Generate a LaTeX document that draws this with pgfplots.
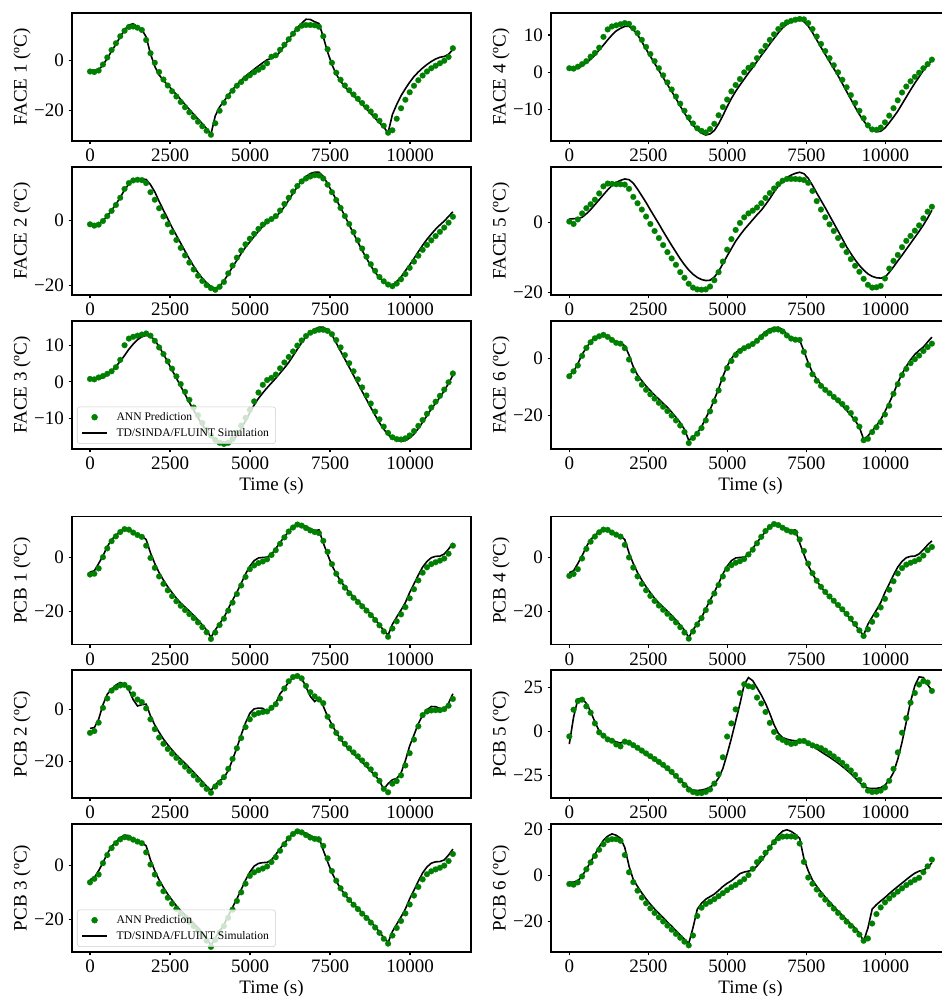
\documentclass[border=0pt]{standalone}
\usepackage{fontspec}
\setmainfont{Liberation Serif}
\usepackage{pgfplots}
\usepackage{pgfplotstable}
\pgfplotsset{compat=1.18}
\definecolor{ann}{rgb}{0,0.5,0}

\pgfplotstableread[row sep=\\]{t a s\\
0 -4.3 -3.8\\ 135 -4.5 -3.8\\ 270 -3.9 -3.6\\ 405 -1.5 -1.8\\ 540 1.3 1.0\\ 675 4.3 3.8\\ 810 7.0 6.6\\ 945 9.8 9.6\\ 1080 12.0 12.3\\ 1215 13.5 14.3\\ 1350 13.7 14.8\\ 1485 13.2 13.6\\ 1620 12.3 12.5\\ 1755 8.3 9.5\\ 1890 3.0 2.8\\ 2025 -0.8 -2.3\\ 2160 -4.5 -5.7\\ 2295 -7.5 -7.8\\ 2430 -9.9 -9.8\\ 2565 -12.2 -11.6\\ 2700 -14.3 -13.5\\ 2835 -16.5 -15.5\\ 2970 -18.6 -17.5\\ 3105 -20.6 -19.5\\ 3240 -22.5 -21.4\\ 3375 -24.4 -23.3\\ 3510 -26.2 -25.2\\ 3645 -28.0 -27.2\\ 3780 -29.6 -29.4\\ 3915 -25.0 -22.0\\ 4050 -20.0 -18.5\\ 4185 -16.8 -16.2\\ 4320 -14.2 -13.8\\ 4455 -12.0 -11.6\\ 4590 -10.0 -9.6\\ 4725 -8.5 -7.8\\ 4860 -7.0 -6.2\\ 4995 -5.8 -4.8\\ 5130 -4.6 -3.4\\ 5265 -3.6 -2.1\\ 5400 -2.6 -0.8\\ 5535 -1.0 0.4\\ 5670 1.6 1.0\\ 5805 2.2 1.8\\ 5940 4.4 3.6\\ 6075 6.4 6.0\\ 6210 8.6 8.5\\ 6345 10.8 10.9\\ 6480 12.7 13.2\\ 6615 14.0 15.0\\ 6750 14.3 16.6\\ 6885 14.3 16.5\\ 7020 14.2 15.6\\ 7155 13.6 14.9\\ 7290 9.8 9.5\\ 7425 4.6 3.5\\ 7560 -0.8 -1.5\\ 7695 -4.8 -5.4\\ 7830 -7.6 -8.2\\ 7965 -9.9 -10.4\\ 8100 -11.8 -12.2\\ 8235 -13.5 -13.9\\ 8370 -15.2 -15.6\\ 8505 -16.9 -17.4\\ 8640 -18.6 -19.3\\ 8775 -20.3 -21.1\\ 8910 -22.1 -23.0\\ 9045 -24.0 -24.8\\ 9180 -26.0 -26.6\\ 9315 -28.8 -28.8\\ 9450 -27.8 -21.5\\ 9585 -23.2 -17.5\\ 9720 -19.0 -14.0\\ 9855 -15.6 -11.2\\ 9990 -12.6 -8.6\\ 10125 -10.0 -6.3\\ 10260 -7.8 -4.5\\ 10395 -5.9 -2.9\\ 10530 -4.3 -1.5\\ 10665 -3.0 -0.3\\ 10800 -2.0 0.7\\ 10935 -1.0 1.4\\ 11070 0.0 1.7\\ 11205 1.5 2.6\\ 11340 5.0 4.5\\
}\faceA

\pgfplotstableread[row sep=\\]{t a s\\
0 -1.3 -1.2\\ 135 -1.7 -1.5\\ 270 -1.4 -1.2\\ 405 -0.3 -0.2\\ 540 1.2 1.2\\ 675 2.8 3.0\\ 810 4.6 4.8\\ 945 6.8 6.9\\ 1080 9.5 9.2\\ 1215 11.3 11.0\\ 1350 12.1 12.0\\ 1485 12.3 12.4\\ 1620 12.2 12.5\\ 1755 11.3 12.4\\ 1890 8.5 10.8\\ 2025 6.2 8.6\\ 2160 3.6 5.7\\ 2295 1.1 3.0\\ 2430 -1.3 0.4\\ 2565 -3.7 -2.3\\ 2700 -6.1 -4.7\\ 2835 -8.5 -7.1\\ 2970 -10.8 -9.5\\ 3105 -13.0 -11.9\\ 3240 -15.1 -14.1\\ 3375 -17.0 -16.1\\ 3510 -18.6 -17.8\\ 3645 -19.9 -19.2\\ 3780 -20.8 -20.3\\ 3915 -21.3 -20.9\\ 4050 -20.4 -20.2\\ 4185 -18.9 -18.6\\ 4320 -16.3 -16.5\\ 4455 -13.9 -14.3\\ 4590 -11.5 -12.3\\ 4725 -9.3 -10.2\\ 4860 -7.4 -8.3\\ 4995 -5.7 -6.7\\ 5130 -4.2 -5.0\\ 5265 -2.7 -3.4\\ 5400 -1.4 -1.9\\ 5535 -0.4 -0.8\\ 5670 0.3 0.2\\ 5805 1.2 1.1\\ 5940 2.9 2.3\\ 6075 4.9 4.1\\ 6210 6.8 6.1\\ 6345 8.7 8.2\\ 6480 10.4 10.2\\ 6615 11.8 12.0\\ 6750 12.7 13.3\\ 6885 13.3 14.2\\ 7020 13.7 14.6\\ 7155 13.6 14.6\\ 7290 12.7 13.3\\ 7425 10.8 11.1\\ 7560 8.5 8.7\\ 7695 6.1 6.2\\ 7830 3.7 3.8\\ 7965 1.2 1.2\\ 8100 -1.2 -1.5\\ 8235 -3.7 -4.1\\ 8370 -6.2 -6.7\\ 8505 -8.7 -9.3\\ 8640 -11.2 -11.7\\ 8775 -13.5 -14.0\\ 8910 -15.5 -16.0\\ 9045 -17.4 -17.6\\ 9180 -18.7 -18.9\\ 9315 -19.7 -19.7\\ 9450 -20.2 -19.9\\ 9585 -19.4 -18.8\\ 9720 -18.1 -17.4\\ 9855 -16.5 -15.5\\ 9990 -14.6 -13.7\\ 10125 -12.7 -11.7\\ 10260 -10.9 -9.7\\ 10395 -9.1 -7.7\\ 10530 -7.6 -5.9\\ 10665 -6.2 -4.3\\ 10800 -4.9 -2.8\\ 10935 -3.6 -1.5\\ 11070 -2.3 -0.3\\ 11205 -0.8 1.1\\ 11340 1.0 2.5\\
}\faceB

\pgfplotstableread[row sep=\\]{t a s\\
0 0.8 0.7\\ 135 0.7 0.6\\ 270 1.2 0.8\\ 405 1.6 1.2\\ 540 2.2 1.9\\ 675 2.9 2.9\\ 810 4.0 4.2\\ 945 6.0 5.6\\ 1080 10.0 7.2\\ 1215 11.8 8.9\\ 1350 12.3 10.3\\ 1485 12.6 11.5\\ 1620 12.9 12.3\\ 1755 13.2 12.7\\ 1890 12.6 12.4\\ 2025 11.2 11.4\\ 2160 9.4 9.6\\ 2295 7.6 7.6\\ 2430 5.6 5.4\\ 2565 3.6 3.2\\ 2700 1.5 1.0\\ 2835 -0.6 -1.2\\ 2970 -2.7 -3.4\\ 3105 -4.9 -5.6\\ 3240 -7.0 -7.7\\ 3375 -9.1 -9.8\\ 3510 -11.2 -11.7\\ 3645 -13.1 -13.4\\ 3780 -14.6 -14.8\\ 3915 -15.8 -15.9\\ 4050 -16.6 -16.7\\ 4185 -16.9 -17.2\\ 4320 -16.6 -17.0\\ 4455 -15.6 -16.1\\ 4590 -13.9 -14.6\\ 4725 -11.9 -12.7\\ 4860 -9.8 -10.6\\ 4995 -7.6 -8.4\\ 5130 -5.3 -6.3\\ 5265 -2.9 -4.5\\ 5400 -0.8 -3.0\\ 5535 0.5 -1.6\\ 5670 1.1 -0.3\\ 5805 2.0 1.0\\ 5940 3.7 2.4\\ 6075 5.3 3.8\\ 6210 6.8 5.3\\ 6345 8.3 7.1\\ 6480 9.9 8.9\\ 6615 11.3 10.7\\ 6750 12.5 12.3\\ 6885 13.4 13.5\\ 7020 13.9 14.4\\ 7155 14.2 14.9\\ 7290 14.2 14.9\\ 7425 13.9 14.2\\ 7560 13.0 12.8\\ 7695 11.4 10.6\\ 7830 9.4 8.4\\ 7965 7.3 6.2\\ 8100 5.1 4.0\\ 8235 2.9 1.8\\ 8370 0.7 -0.4\\ 8505 -1.5 -2.6\\ 8640 -3.7 -4.8\\ 8775 -5.9 -7.0\\ 8910 -8.1 -9.1\\ 9045 -10.2 -11.1\\ 9180 -12.2 -12.9\\ 9315 -13.9 -14.4\\ 9450 -15.1 -15.4\\ 9585 -15.6 -15.9\\ 9720 -15.7 -16.2\\ 9855 -15.4 -16.0\\ 9990 -14.6 -15.3\\ 10125 -13.4 -14.2\\ 10260 -12.0 -12.7\\ 10395 -10.4 -11.0\\ 10530 -8.7 -9.2\\ 10665 -7.0 -7.4\\ 10800 -5.4 -5.8\\ 10935 -3.8 -4.2\\ 11070 -2.1 -2.4\\ 11205 -0.1 -0.4\\ 11340 2.3 1.8\\
}\faceC

\pgfplotstableread[row sep=\\]{t a s\\
0 1.1 1.0\\ 135 1.0 0.9\\ 270 1.5 1.1\\ 405 2.2 1.7\\ 540 3.0 2.6\\ 675 4.2 3.5\\ 810 5.2 4.6\\ 945 6.6 6.0\\ 1080 9.5 7.3\\ 1215 11.5 8.7\\ 1350 12.3 10.0\\ 1485 12.6 11.1\\ 1620 12.9 11.8\\ 1755 13.2 12.3\\ 1890 13.0 12.3\\ 2025 11.8 11.5\\ 2160 10.5 10.1\\ 2295 8.7 8.2\\ 2430 6.8 6.2\\ 2565 4.9 4.3\\ 2700 3.0 2.4\\ 2835 1.1 0.5\\ 2970 -0.8 -1.4\\ 3105 -2.7 -3.3\\ 3240 -4.6 -5.1\\ 3375 -6.5 -7.0\\ 3510 -8.4 -9.0\\ 3645 -10.3 -10.9\\ 3780 -12.1 -12.7\\ 3915 -13.7 -14.2\\ 4050 -15.0 -15.3\\ 4185 -15.7 -16.3\\ 4320 -16.1 -16.8\\ 4455 -15.2 -16.5\\ 4590 -13.8 -15.6\\ 4725 -11.5 -13.8\\ 4860 -9.3 -11.6\\ 4995 -7.3 -9.2\\ 5130 -5.1 -7.0\\ 5265 -3.4 -5.1\\ 5400 -1.8 -3.4\\ 5535 0.0 -1.8\\ 5670 1.2 -0.2\\ 5805 2.0 1.3\\ 5940 3.8 2.9\\ 6075 5.6 4.5\\ 6210 7.1 6.0\\ 6345 8.7 7.6\\ 6480 10.2 9.1\\ 6615 11.6 10.6\\ 6750 12.7 11.9\\ 6885 13.4 12.9\\ 7020 13.8 13.6\\ 7155 14.1 14.0\\ 7290 14.3 14.2\\ 7425 14.2 13.6\\ 7560 13.2 12.4\\ 7695 11.6 10.7\\ 7830 9.6 8.7\\ 7965 7.6 6.7\\ 8100 5.7 4.8\\ 8235 3.8 2.9\\ 8370 1.9 1.0\\ 8505 0.0 -0.9\\ 8640 -2.0 -3.0\\ 8775 -4.0 -5.1\\ 8910 -6.1 -7.2\\ 9045 -8.2 -9.3\\ 9180 -10.3 -11.3\\ 9315 -12.3 -13.0\\ 9450 -14.2 -14.5\\ 9585 -15.3 -15.5\\ 9720 -15.4 -15.9\\ 9855 -14.8 -15.8\\ 9990 -13.4 -14.9\\ 10125 -11.6 -13.5\\ 10260 -9.6 -12.0\\ 10395 -7.5 -10.4\\ 10530 -5.4 -8.5\\ 10665 -3.8 -6.6\\ 10800 -2.4 -4.7\\ 10935 -1.2 -2.9\\ 11070 -0.1 -1.2\\ 11205 1.1 0.5\\ 11340 2.2 2.0\\ 11475 3.4 3.3\\
}\faceD

\pgfplotstableread[row sep=\\]{t a s\\
0 0.2 0.9\\ 135 -0.5 1.0\\ 270 0.8 1.1\\ 405 2.5 1.4\\ 540 4.0 2.4\\ 675 5.1 3.6\\ 810 6.4 5.0\\ 945 8.2 6.4\\ 1080 10.2 7.8\\ 1215 11.0 9.2\\ 1350 10.9 10.4\\ 1485 10.8 11.3\\ 1620 10.8 11.9\\ 1755 10.7 12.3\\ 1890 9.5 12.1\\ 2025 7.2 11.1\\ 2160 5.4 9.4\\ 2295 3.6 7.5\\ 2430 1.6 5.6\\ 2565 -0.5 3.5\\ 2700 -2.5 1.5\\ 2835 -4.5 -0.5\\ 2970 -6.5 -2.6\\ 3105 -8.5 -4.6\\ 3240 -10.3 -6.6\\ 3375 -12.1 -8.5\\ 3510 -14.2 -10.4\\ 3645 -15.8 -12.1\\ 3780 -17.5 -13.6\\ 3915 -18.6 -14.8\\ 4050 -19.1 -15.7\\ 4185 -19.2 -16.3\\ 4320 -19.1 -16.6\\ 4455 -18.3 -16.5\\ 4590 -16.5 -15.6\\ 4725 -14.2 -14.0\\ 4860 -11.2 -11.8\\ 4995 -7.8 -9.6\\ 5130 -4.8 -7.5\\ 5265 -2.2 -5.4\\ 5400 -0.2 -3.7\\ 5535 1.4 -2.1\\ 5670 2.5 -0.7\\ 5805 3.3 0.7\\ 5940 4.2 2.1\\ 6075 5.4 3.4\\ 6210 6.9 5.0\\ 6345 8.3 6.7\\ 6480 9.6 8.6\\ 6615 10.8 10.3\\ 6750 11.8 11.6\\ 6885 12.3 12.7\\ 7020 12.3 13.4\\ 7155 12.3 13.9\\ 7290 12.2 14.2\\ 7425 12.0 13.8\\ 7560 11.2 12.5\\ 7695 8.9 10.5\\ 7830 6.0 8.3\\ 7965 3.6 6.2\\ 8100 1.4 4.1\\ 8235 -0.6 1.9\\ 8370 -2.5 -0.3\\ 8505 -4.5 -2.5\\ 8640 -6.6 -4.7\\ 8775 -8.5 -7.0\\ 8910 -10.5 -8.9\\ 9045 -12.4 -10.7\\ 9180 -14.1 -12.3\\ 9315 -16.1 -13.6\\ 9450 -17.8 -14.7\\ 9585 -18.6 -15.4\\ 9720 -18.5 -15.8\\ 9855 -18.1 -15.9\\ 9990 -16.0 -15.6\\ 10125 -13.2 -14.3\\ 10260 -11.0 -12.7\\ 10395 -9.3 -11.0\\ 10530 -7.1 -9.4\\ 10665 -5.3 -7.7\\ 10800 -3.9 -6.0\\ 10935 -2.4 -4.3\\ 11070 -0.9 -2.6\\ 11205 1.1 -0.8\\ 11340 3.0 1.2\\ 11475 4.4 3.4\\
}\faceE

\pgfplotstableread[row sep=\\]{t a s\\
0 -6.2 -5.9\\ 135 -4.5 -4.6\\ 270 -2.4 -1.8\\ 405 1.0 1.5\\ 540 3.8 3.9\\ 675 5.8 6.0\\ 810 7.2 7.5\\ 945 7.9 8.1\\ 1080 8.4 8.6\\ 1215 7.7 7.9\\ 1350 6.6 6.9\\ 1485 5.6 6.0\\ 1620 5.3 5.5\\ 1755 3.7 4.6\\ 1890 -0.3 1.3\\ 2025 -4.2 -2.9\\ 2160 -7.0 -5.8\\ 2295 -9.2 -7.8\\ 2430 -11.0 -9.7\\ 2565 -12.6 -11.3\\ 2700 -14.1 -12.9\\ 2835 -15.6 -14.3\\ 2970 -17.0 -15.8\\ 3105 -18.5 -17.2\\ 3240 -20.1 -18.9\\ 3375 -21.8 -20.7\\ 3510 -23.6 -22.6\\ 3645 -25.9 -25.0\\ 3780 -29.8 -28.8\\ 3915 -28.0 -27.8\\ 4050 -26.5 -26.2\\ 4185 -24.5 -24.0\\ 4320 -21.8 -21.0\\ 4455 -18.6 -18.0\\ 4590 -15.0 -14.4\\ 4725 -11.2 -10.6\\ 4860 -7.2 -6.3\\ 4995 -3.3 -2.6\\ 5130 -0.8 0.0\\ 5265 1.3 2.1\\ 5400 2.7 3.3\\ 5535 3.7 4.0\\ 5670 4.4 4.6\\ 5805 5.2 5.2\\ 5940 6.3 6.6\\ 6075 7.6 8.1\\ 6210 8.8 9.5\\ 6345 9.8 10.4\\ 6480 10.3 11.0\\ 6615 10.3 11.1\\ 6750 9.6 10.2\\ 6885 8.2 8.6\\ 7020 7.1 7.4\\ 7155 6.7 6.9\\ 7290 6.6 6.5\\ 7425 2.4 2.7\\ 7560 -2.2 -1.4\\ 7695 -5.5 -4.9\\ 7830 -7.8 -7.2\\ 7965 -9.6 -9.1\\ 8100 -11.0 -10.8\\ 8235 -12.2 -12.3\\ 8370 -13.5 -13.7\\ 8505 -14.7 -15.2\\ 8640 -16.0 -16.6\\ 8775 -17.4 -18.2\\ 8910 -19.2 -20.0\\ 9045 -21.4 -21.8\\ 9180 -24.0 -24.2\\ 9315 -28.8 -28.5\\ 9450 -28.3 -27.3\\ 9585 -25.9 -25.5\\ 9720 -24.2 -23.6\\ 9855 -22.4 -21.6\\ 9990 -19.7 -18.6\\ 10125 -16.6 -15.6\\ 10260 -12.4 -12.3\\ 10395 -9.0 -8.5\\ 10530 -5.8 -5.4\\ 10665 -3.6 -2.7\\ 10800 -1.6 -0.4\\ 10935 -0.2 1.5\\ 11070 1.1 2.9\\ 11205 2.7 4.1\\ 11340 4.1 5.9\\ 11475 5.3 7.6\\
}\faceF

\pgfplotstableread[row sep=\\]{t a s\\
0 -6.3 -5.4\\ 135 -6.0 -4.9\\ 270 -4.0 -2.2\\ 405 0.2 0.7\\ 540 3.5 4.1\\ 675 6.2 6.8\\ 810 8.0 8.3\\ 945 9.6 9.8\\ 1080 10.7 10.9\\ 1215 10.5 10.7\\ 1350 9.4 9.5\\ 1485 8.5 8.7\\ 1620 7.8 8.1\\ 1755 4.5 6.8\\ 1890 -0.1 1.8\\ 2025 -3.8 -2.2\\ 2160 -7.0 -5.6\\ 2295 -9.8 -8.4\\ 2430 -12.2 -10.9\\ 2565 -14.4 -13.1\\ 2700 -16.3 -15.2\\ 2835 -18.0 -17.0\\ 2970 -19.6 -18.5\\ 3105 -21.1 -20.0\\ 3240 -22.6 -21.6\\ 3375 -24.2 -23.3\\ 3510 -26.0 -25.2\\ 3645 -27.9 -27.1\\ 3780 -30.4 -29.9\\ 3915 -28.0 -27.0\\ 4050 -25.2 -24.7\\ 4185 -22.8 -22.4\\ 4320 -19.8 -19.1\\ 4455 -16.8 -15.9\\ 4590 -13.6 -12.9\\ 4725 -10.4 -9.6\\ 4860 -7.2 -6.1\\ 4995 -4.3 -3.2\\ 5130 -2.9 -1.1\\ 5265 -2.0 -0.1\\ 5400 -1.4 0.1\\ 5535 -0.6 0.2\\ 5670 1.0 1.2\\ 5805 2.8 3.4\\ 5940 5.2 5.7\\ 6075 7.6 7.8\\ 6210 9.8 9.8\\ 6345 11.3 11.5\\ 6480 12.4 12.8\\ 6615 12.0 12.3\\ 6750 11.1 11.7\\ 6885 10.2 10.8\\ 7020 9.6 10.1\\ 7155 9.2 10.4\\ 7290 6.3 5.5\\ 7425 2.2 1.2\\ 7560 -2.4 -2.9\\ 7695 -6.0 -6.0\\ 7830 -8.9 -8.7\\ 7965 -11.2 -10.9\\ 8100 -13.3 -13.0\\ 8235 -15.0 -14.6\\ 8370 -16.6 -16.3\\ 8505 -18.2 -17.9\\ 8640 -19.8 -19.5\\ 8775 -21.5 -21.2\\ 8910 -23.3 -23.2\\ 9045 -25.3 -25.1\\ 9180 -27.6 -27.3\\ 9315 -29.6 -29.0\\ 9450 -26.5 -24.9\\ 9585 -23.8 -22.2\\ 9720 -21.2 -19.6\\ 9855 -18.5 -16.8\\ 9990 -15.2 -13.0\\ 10125 -11.8 -9.8\\ 10260 -8.5 -6.5\\ 10395 -5.6 -3.5\\ 10530 -3.6 -1.4\\ 10665 -2.4 0.0\\ 10800 -1.7 0.5\\ 10935 -1.1 0.6\\ 11070 -0.3 1.4\\ 11205 1.5 3.2\\ 11340 4.5 5.5\\
}\pcbA

\pgfplotstableread[row sep=\\]{t a s\\
0 -9.0 -7.3\\ 135 -8.3 -7.0\\ 270 -5.1 -3.8\\ 405 0.6 1.8\\ 540 4.2 5.8\\ 675 7.2 7.7\\ 810 8.4 9.3\\ 945 9.2 10.3\\ 1080 9.4 9.6\\ 1215 8.2 7.4\\ 1350 5.8 3.7\\ 1485 3.8 1.3\\ 1620 2.8 1.8\\ 1755 0.4 2.0\\ 1890 -3.8 -2.5\\ 2025 -7.6 -6.0\\ 2160 -10.8 -8.8\\ 2295 -13.2 -11.4\\ 2430 -15.2 -13.6\\ 2565 -17.0 -15.6\\ 2700 -18.6 -17.5\\ 2835 -20.3 -19.1\\ 2970 -22.0 -20.7\\ 3105 -23.6 -22.4\\ 3240 -25.3 -24.1\\ 3375 -27.0 -25.9\\ 3510 -28.8 -27.7\\ 3645 -30.5 -29.5\\ 3780 -32.0 -31.1\\ 3915 -29.6 -29.0\\ 4050 -28.1 -27.4\\ 4185 -26.0 -26.2\\ 4320 -22.8 -23.5\\ 4455 -19.0 -19.3\\ 4590 -14.9 -14.7\\ 4725 -11.0 -9.8\\ 4860 -6.8 -5.2\\ 4995 -3.8 -1.5\\ 5130 -2.0 0.2\\ 5265 -1.4 0.5\\ 5400 -1.0 0.4\\ 5535 -0.8 -0.9\\ 5670 0.6 0.2\\ 5805 2.0 2.4\\ 5940 4.2 6.0\\ 6075 8.0 8.0\\ 6210 10.8 10.6\\ 6345 12.4 12.2\\ 6480 12.8 12.7\\ 6615 11.9 11.9\\ 6750 9.0 8.6\\ 6885 6.6 5.0\\ 7020 5.0 3.0\\ 7155 3.8 4.5\\ 7290 2.4 1.2\\ 7425 -2.8 -2.7\\ 7560 -6.3 -5.8\\ 7695 -9.0 -8.9\\ 7830 -11.2 -11.4\\ 7965 -13.2 -13.6\\ 8100 -14.9 -15.4\\ 8235 -16.5 -17.0\\ 8370 -18.0 -18.6\\ 8505 -19.6 -20.3\\ 8640 -21.2 -21.9\\ 8775 -23.0 -23.6\\ 8910 -25.0 -25.3\\ 9045 -27.4 -27.5\\ 9180 -30.5 -30.6\\ 9315 -31.8 -28.5\\ 9450 -28.5 -27.0\\ 9585 -27.5 -26.5\\ 9720 -25.3 -24.4\\ 9855 -21.5 -19.7\\ 9990 -16.8 -14.0\\ 10125 -11.6 -9.8\\ 10260 -6.5 -5.5\\ 10395 -2.2 -2.2\\ 10530 -0.8 -0.2\\ 10665 -0.4 1.1\\ 10800 -0.3 1.0\\ 10935 -0.3 0.4\\ 11070 0.1 -0.1\\ 11205 1.4 2.4\\ 11340 4.0 6.0\\
}\pcbB

\pgfplotstableread[row sep=\\]{t a s\\
0 -6.3 -5.3\\ 135 -5.0 -4.6\\ 270 -3.4 -2.0\\ 405 0.8 1.0\\ 540 3.8 4.3\\ 675 6.4 7.0\\ 810 8.2 8.6\\ 945 9.6 10.2\\ 1080 10.4 11.2\\ 1215 10.2 11.0\\ 1350 9.5 9.8\\ 1485 8.8 9.0\\ 1620 8.2 8.5\\ 1755 4.8 7.2\\ 1890 0.3 2.0\\ 2025 -3.4 -2.0\\ 2160 -6.8 -5.4\\ 2295 -9.6 -8.2\\ 2430 -12.0 -10.7\\ 2565 -14.2 -12.9\\ 2700 -16.1 -15.0\\ 2835 -17.8 -16.8\\ 2970 -19.4 -18.3\\ 3105 -20.9 -19.8\\ 3240 -22.5 -21.4\\ 3375 -24.1 -23.1\\ 3510 -25.9 -25.0\\ 3645 -27.9 -26.9\\ 3780 -30.2 -29.7\\ 3915 -27.6 -26.8\\ 4050 -24.9 -24.4\\ 4185 -22.5 -22.0\\ 4320 -19.4 -18.7\\ 4455 -16.4 -15.5\\ 4590 -13.2 -12.4\\ 4725 -10.0 -9.0\\ 4860 -6.8 -5.5\\ 4995 -3.9 -2.5\\ 5130 -2.6 -0.3\\ 5265 -1.8 0.7\\ 5400 -1.2 1.0\\ 5535 -0.4 1.1\\ 5670 1.2 2.0\\ 5805 3.0 4.0\\ 5940 5.4 6.2\\ 6075 7.8 8.2\\ 6210 10.0 10.1\\ 6345 11.6 11.8\\ 6480 12.6 13.0\\ 6615 12.2 12.5\\ 6750 11.2 11.9\\ 6885 10.3 11.0\\ 7020 9.8 10.2\\ 7155 9.5 10.4\\ 7290 7.2 5.6\\ 7425 2.6 1.3\\ 7560 -2.1 -2.8\\ 7695 -5.7 -5.9\\ 7830 -8.5 -8.6\\ 7965 -10.8 -10.8\\ 8100 -12.8 -12.8\\ 8235 -14.6 -14.4\\ 8370 -16.2 -16.0\\ 8505 -17.9 -17.6\\ 8640 -19.5 -19.2\\ 8775 -21.2 -20.9\\ 8910 -23.0 -22.8\\ 9045 -25.0 -24.7\\ 9180 -27.2 -26.8\\ 9315 -29.0 -28.6\\ 9450 -26.0 -24.5\\ 9585 -23.2 -21.8\\ 9720 -20.6 -19.1\\ 9855 -17.8 -16.2\\ 9990 -14.5 -12.4\\ 10125 -11.2 -9.2\\ 10260 -8.0 -5.9\\ 10395 -5.2 -2.8\\ 10530 -3.3 -0.6\\ 10665 -2.2 0.8\\ 10800 -1.5 1.3\\ 10935 -0.9 1.4\\ 11070 -0.1 2.0\\ 11205 1.6 3.8\\ 11340 4.2 6.0\\
}\pcbC

\pgfplotstableread[row sep=\\]{t a s\\
0 -6.8 -5.6\\ 135 -6.1 -4.9\\ 270 -4.3 -2.2\\ 405 -0.3 0.7\\ 540 3.3 4.1\\ 675 6.0 6.8\\ 810 7.9 8.3\\ 945 9.5 9.8\\ 1080 10.5 10.9\\ 1215 10.4 10.7\\ 1350 9.4 9.5\\ 1485 8.6 8.7\\ 1620 7.9 8.1\\ 1755 4.8 6.8\\ 1890 0.1 1.8\\ 2025 -3.7 -2.2\\ 2160 -7.0 -5.6\\ 2295 -9.8 -8.4\\ 2430 -12.2 -10.9\\ 2565 -14.3 -13.1\\ 2700 -16.2 -15.2\\ 2835 -17.9 -17.0\\ 2970 -19.5 -18.5\\ 3105 -21.0 -20.0\\ 3240 -22.6 -21.6\\ 3375 -24.2 -23.3\\ 3510 -26.0 -25.2\\ 3645 -28.0 -27.1\\ 3780 -30.3 -29.9\\ 3915 -27.6 -27.0\\ 4050 -25.0 -24.7\\ 4185 -22.6 -22.4\\ 4320 -19.6 -19.1\\ 4455 -16.5 -15.9\\ 4590 -13.4 -12.9\\ 4725 -10.2 -9.6\\ 4860 -7.0 -6.1\\ 4995 -4.2 -3.2\\ 5130 -2.8 -1.1\\ 5265 -1.9 -0.1\\ 5400 -1.3 0.1\\ 5535 -0.5 0.2\\ 5670 1.2 1.2\\ 5805 3.0 3.4\\ 5940 5.4 5.7\\ 6075 7.8 7.8\\ 6210 10.0 9.8\\ 6345 11.5 11.5\\ 6480 12.6 13.1\\ 6615 12.2 12.4\\ 6750 11.2 11.7\\ 6885 10.3 10.8\\ 7020 9.7 10.1\\ 7155 9.4 10.4\\ 7290 6.8 5.5\\ 7425 2.5 1.2\\ 7560 -2.2 -2.9\\ 7695 -5.8 -6.0\\ 7830 -8.6 -8.7\\ 7965 -10.9 -10.9\\ 8100 -12.8 -13.0\\ 8235 -14.5 -14.6\\ 8370 -16.1 -16.3\\ 8505 -17.7 -17.9\\ 8640 -19.3 -19.5\\ 8775 -21.0 -21.2\\ 8910 -22.8 -23.2\\ 9045 -24.8 -25.1\\ 9180 -27.2 -27.3\\ 9315 -29.3 -29.0\\ 9450 -26.8 -24.9\\ 9585 -24.0 -22.2\\ 9720 -21.4 -19.6\\ 9855 -18.6 -16.8\\ 9990 -15.4 -13.0\\ 10125 -12.0 -9.8\\ 10260 -8.8 -6.5\\ 10395 -5.9 -3.5\\ 10530 -3.9 -1.4\\ 10665 -2.6 0.0\\ 10800 -1.9 0.5\\ 10935 -1.3 0.6\\ 11070 -0.6 1.4\\ 11205 0.8 3.0\\ 11340 2.8 4.8\\ 11475 4.0 6.3\\
}\pcbD

\pgfplotstableread[row sep=\\]{t a s\\
0 -2.9 -7.3\\ 135 12.3 8.0\\ 270 17.2 18.3\\ 405 18.0 18.8\\ 540 14.2 15.8\\ 675 10.6 11.3\\ 810 4.5 5.3\\ 945 -0.6 0.2\\ 1080 -2.5 -2.6\\ 1215 -4.6 -4.1\\ 1350 -5.4 -5.1\\ 1485 -7.5 -6.0\\ 1620 -8.6 -6.7\\ 1755 -5.9 -5.7\\ 1890 -6.5 -6.6\\ 2025 -7.9 -8.2\\ 2160 -9.4 -9.9\\ 2295 -11.0 -11.5\\ 2430 -12.6 -13.2\\ 2565 -14.2 -14.8\\ 2700 -15.8 -16.4\\ 2835 -17.4 -18.0\\ 2970 -19.1 -19.7\\ 3105 -21.0 -21.6\\ 3240 -23.1 -23.7\\ 3375 -25.4 -25.8\\ 3510 -28.0 -27.8\\ 3645 -30.6 -29.9\\ 3780 -33.2 -32.4\\ 3915 -34.6 -33.5\\ 4050 -35.2 -33.7\\ 4185 -35.2 -33.5\\ 4320 -34.5 -32.9\\ 4455 -33.1 -31.8\\ 4590 -29.8 -30.0\\ 4725 -24.5 -26.6\\ 4860 -14.8 -21.2\\ 4995 -3.0 -13.0\\ 5130 4.5 -4.0\\ 5265 12.5 5.8\\ 5400 21.8 15.6\\ 5535 26.8 26.6\\ 5670 25.7 30.6\\ 5805 25.2 28.8\\ 5940 19.2 24.8\\ 6075 15.8 20.7\\ 6210 11.0 15.9\\ 6345 4.8 10.1\\ 6480 -0.4 3.7\\ 6615 -3.6 -1.2\\ 6750 -4.9 -3.6\\ 6885 -6.3 -4.5\\ 7020 -7.2 -5.1\\ 7155 -6.8 -5.4\\ 7290 -5.6 -5.4\\ 7425 -5.5 -5.0\\ 7560 -6.8 -6.4\\ 7695 -8.0 -8.3\\ 7830 -8.8 -10.0\\ 7965 -9.6 -11.6\\ 8100 -11.0 -13.2\\ 8235 -12.6 -14.7\\ 8370 -14.3 -16.4\\ 8505 -16.1 -18.1\\ 8640 -18.0 -20.0\\ 8775 -20.1 -22.0\\ 8910 -22.3 -24.1\\ 9045 -24.8 -26.5\\ 9180 -27.7 -29.0\\ 9315 -30.8 -31.2\\ 9450 -33.8 -32.4\\ 9585 -34.6 -32.6\\ 9720 -34.4 -32.5\\ 9855 -33.8 -32.1\\ 9990 -32.0 -30.7\\ 10125 -28.2 -27.8\\ 10260 -21.4 -23.5\\ 10395 -12.0 -15.9\\ 10530 -0.8 -6.2\\ 10665 7.5 5.4\\ 10800 16.3 16.8\\ 10935 21.8 26.0\\ 11070 26.6 31.0\\ 11205 28.6 30.6\\ 11340 27.8 26.5\\ 11475 23.0 23.3\\
}\pcbE

\pgfplotstableread[row sep=\\]{t a s\\
0 -3.6 -2.8\\ 135 -3.9 -2.8\\ 270 -2.9 -2.2\\ 405 -0.3 -0.2\\ 540 2.8 2.9\\ 675 5.8 6.0\\ 810 8.6 9.3\\ 945 11.3 12.5\\ 1080 13.7 15.4\\ 1215 15.5 17.2\\ 1350 15.9 18.2\\ 1485 15.9 17.6\\ 1620 15.2 16.3\\ 1755 9.0 12.3\\ 1890 1.5 4.2\\ 2025 -2.8 -1.7\\ 2160 -6.5 -4.7\\ 2295 -9.5 -7.5\\ 2430 -12.0 -10.1\\ 2565 -14.2 -12.4\\ 2700 -16.2 -14.5\\ 2835 -18.1 -16.4\\ 2970 -19.9 -18.2\\ 3105 -21.7 -20.2\\ 3240 -23.5 -22.0\\ 3375 -25.3 -23.9\\ 3510 -27.0 -25.8\\ 3645 -28.7 -27.6\\ 3780 -30.3 -29.5\\ 3915 -26.0 -22.6\\ 4050 -17.5 -14.6\\ 4185 -13.9 -12.0\\ 4320 -12.3 -10.2\\ 4455 -11.3 -9.1\\ 4590 -10.2 -8.0\\ 4725 -8.9 -6.4\\ 4860 -7.6 -4.7\\ 4995 -6.3 -3.3\\ 5130 -5.0 -2.2\\ 5265 -4.0 -0.7\\ 5400 -2.8 0.9\\ 5535 -1.5 1.6\\ 5670 0.3 2.0\\ 5805 3.0 2.5\\ 5940 5.9 4.2\\ 6075 7.5 6.5\\ 6210 10.0 9.2\\ 6345 12.2 12.3\\ 6480 14.6 15.0\\ 6615 16.3 17.6\\ 6750 17.0 19.4\\ 6885 17.1 20.0\\ 7020 17.1 19.3\\ 7155 16.9 18.0\\ 7290 14.0 16.3\\ 7425 6.0 7.4\\ 7560 -0.8 2.2\\ 7695 -3.5 -1.9\\ 7830 -6.0 -4.6\\ 7965 -8.3 -7.1\\ 8100 -10.4 -9.3\\ 8235 -12.4 -11.4\\ 8370 -14.3 -13.4\\ 8505 -16.2 -15.4\\ 8640 -18.1 -17.3\\ 8775 -20.0 -19.2\\ 8910 -21.8 -21.0\\ 9045 -23.7 -22.8\\ 9180 -25.6 -25.0\\ 9315 -28.3 -28.5\\ 9450 -27.3 -22.8\\ 9585 -20.8 -14.5\\ 9720 -16.7 -12.6\\ 9855 -13.8 -11.0\\ 9990 -11.6 -9.5\\ 10125 -9.9 -7.8\\ 10260 -8.3 -6.2\\ 10395 -6.9 -4.7\\ 10530 -5.5 -3.2\\ 10665 -4.1 -1.7\\ 10800 -2.9 -0.2\\ 10935 -1.8 1.1\\ 11070 -0.9 2.0\\ 11205 1.5 2.4\\ 11340 4.1 3.6\\ 11475 7.0 5.6\\
}\pcbF

\pgfplotsset{
  panel/.style={
    scale only axis, width=299.25pt, height=96pt, anchor=north west,
    axis line style={line width=0.8pt, black},
    tick align=outside, xtick pos=left, ytick pos=left,
    major tick length=2.6pt,
    tick style={line width=0.8pt, black},
    scaled x ticks=false, scaled y ticks=false,
    xtick={0,2500,5000,7500,10000},
    xticklabels={0,2500,5000,7500,10000},
    tick label style={font=\fontsize{14.25}{16}\selectfont, black},
    every axis y label/.style={at={(axis description cs:-0.125,0.5)}, rotate=90, anchor=center, font=\fontsize{14.25}{16}\selectfont},
    every axis x label/.style={at={(axis description cs:0.5,-0.29)}, anchor=center, font=\fontsize{14.25}{16}\selectfont},
    legend cell align=left,
    legend style={at={(0.0125,0.04)}, anchor=south west, draw=black!20, fill=white, fill opacity=0.8, draw opacity=1, text opacity=1, rounded corners=2pt, font=\fontsize{8.7}{10}\selectfont, inner xsep=3pt, inner ysep=2pt, row sep=0.5pt, column sep=4.5pt},
  },
  leftcol/.style={panel, xmin=-562.5, xmax=11906},
  rightcol/.style={panel, xmin=-579, xmax=12048},
  annp/.style={only marks, mark=*, mark size=2.2pt, color=ann, mark options={fill=ann, draw=ann, line width=0.1pt},
    legend image code/.code={\fill[ann, fill opacity=1] (9.4pt,0pt) circle (2.2pt);}},
  simp/.style={no marks, black, line width=1.2pt,
    legend image code/.code={\draw[black, line width=1.2pt, draw opacity=1] (0pt,0pt) -- (18.75pt,0pt);}},
}

\begin{document}
\begin{tikzpicture}
% ---- FACE column left ----
\begin{axis}[leftcol, at={(54pt,-9.75pt)}, ymin=-32.1, ymax=19.1, ytick={-20,0}, yticklabels={−20,0}, ylabel={FACE 1 (ºC)}]
\addplot[annp] table[x=t,y=a]{\faceA};
\addplot[simp] table[x=t,y=s]{\faceA};
\end{axis}
\begin{axis}[leftcol, at={(54pt,-125.25pt)}, ymin=-22.9, ymax=16.2, ytick={-20,0}, yticklabels={−20,0}, ylabel={FACE 2 (ºC)}]
\addplot[annp] table[x=t,y=a]{\faceB};
\addplot[simp] table[x=t,y=s]{\faceB};
\end{axis}
\begin{axis}[leftcol, at={(54pt,-240.75pt)}, ymin=-18.3, ymax=16.6, ytick={-10,0,10}, yticklabels={−10,0,10}, ylabel={FACE 3 (ºC)}, xlabel={Time (s)}]
\addplot[annp] table[x=t,y=a]{\faceC};
\addplot[simp] table[x=t,y=s]{\faceC};
\legend{ANN Prediction, TD/SINDA/FLUINT Simulation}
\end{axis}
% ---- FACE column right ----
\begin{axis}[rightcol, at={(413.25pt,-9.75pt)}, ymin=-18.4, ymax=15.9, ytick={-10,0,10}, yticklabels={−10,0,10}, ylabel={FACE 4 (ºC)}]
\addplot[annp] table[x=t,y=a]{\faceD};
\addplot[simp] table[x=t,y=s]{\faceD};
\end{axis}
\begin{axis}[rightcol, at={(413.25pt,-125.25pt)}, ymin=-20.7, ymax=15.7, ytick={-20,0}, yticklabels={−20,0}, ylabel={FACE 5 (ºC)}]
\addplot[annp] table[x=t,y=a]{\faceE};
\addplot[simp] table[x=t,y=s]{\faceE};
\end{axis}
\begin{axis}[rightcol, at={(413.25pt,-240.75pt)}, ymin=-31.9, ymax=13.3, ytick={-20,0}, yticklabels={−20,0}, ylabel={FACE 6 (ºC)}, xlabel={Time (s)}]
\addplot[annp] table[x=t,y=a]{\faceF};
\addplot[simp] table[x=t,y=s]{\faceF};
\end{axis}
% ---- PCB column left ----
\begin{axis}[leftcol, at={(54pt,-387.4pt)}, ymin=-32.5, ymax=15.4, ytick={-20,0}, yticklabels={−20,0}, ylabel={PCB 1 (ºC)}]
\addplot[annp] table[x=t,y=a]{\pcbA};
\addplot[simp] table[x=t,y=s]{\pcbA};
\end{axis}
\begin{axis}[leftcol, at={(54pt,-502.5pt)}, ymin=-34, ymax=15.1, ytick={-20,0}, yticklabels={−20,0}, ylabel={PCB 2 (ºC)}]
\addplot[annp] table[x=t,y=a]{\pcbB};
\addplot[simp] table[x=t,y=s]{\pcbB};
\end{axis}
\begin{axis}[leftcol, at={(54pt,-618pt)}, ymin=-32.1, ymax=15.3, ytick={-20,0}, yticklabels={−20,0}, ylabel={PCB 3 (ºC)}, xlabel={Time (s)}]
\addplot[annp] table[x=t,y=a]{\pcbC};
\addplot[simp] table[x=t,y=s]{\pcbC};
\legend{ANN Prediction, TD/SINDA/FLUINT Simulation}
\end{axis}
% ---- PCB column right ----
\begin{axis}[rightcol, at={(413.25pt,-387.4pt)}, ymin=-32.5, ymax=15.4, ytick={-20,0}, yticklabels={−20,0}, ylabel={PCB 4 (ºC)}]
\addplot[annp] table[x=t,y=a]{\pcbD};
\addplot[simp] table[x=t,y=s]{\pcbD};
\end{axis}
\begin{axis}[rightcol, at={(413.25pt,-502.5pt)}, ymin=-38, ymax=34.9, ytick={-25,0,25}, yticklabels={−25,0,25}, ylabel={PCB 5 (ºC)}]
\addplot[annp] table[x=t,y=a]{\pcbE};
\addplot[simp] table[x=t,y=s]{\pcbE};
\end{axis}
\begin{axis}[rightcol, at={(413.25pt,-618pt)}, ymin=-33.2, ymax=22.5, ytick={-20,0,20}, yticklabels={−20,0,20}, ylabel={PCB 6 (ºC)}, xlabel={Time (s)}]
\addplot[annp] table[x=t,y=a]{\pcbF};
\addplot[simp] table[x=t,y=s]{\pcbF};
\end{axis}
\pgfresetboundingbox
\path[use as bounding box] (0pt,0pt) rectangle (706.5pt,-747pt);
\end{tikzpicture}
\end{document}
